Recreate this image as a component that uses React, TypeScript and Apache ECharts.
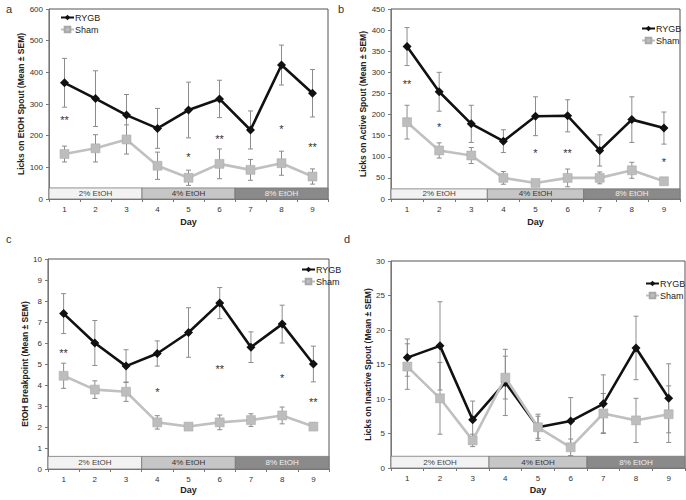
import React, { useEffect, useRef } from 'react';
import * as echarts from 'echarts';

const days = ['1', '2', '3', '4', '5', '6', '7', '8', '9'];
const seriesNames = ['RYGB', 'Sham'];
const bandLabels = ['2% EtOH', '4% EtOH', '8% EtOH'];
const bandStart = [0, 3, 6];
const bandEnd = [2, 5, 8];

// Panel a: Licks on EtOH spout
const aRygb = [367, 317, 265, 223, 281, 316, 218, 423, 334];
const aRygbSem = [77, 88, 65, 63, 88, 59, 60, 63, 75];
const aSham = [142, 160, 188, 105, 67, 111, 92, 113, 71];
const aShamSem = [25, 43, 46, 43, 24, 47, 33, 38, 24];
const aStarDay = [0, 4, 5, 7, 8];
const aStarY = [259, 141, 199, 232, 174];
const aStars = ['**', '*', '**', '*', '**'];

// Panel b: Licks on active spout
const bRygb = [361, 254, 178, 137, 196, 197, 115, 188, 168];
const bRygbSem = [45, 46, 44, 27, 46, 38, 37, 54, 38];
const bSham = [182, 115, 103, 50, 38, 50, 50, 68, 42];
const bShamSem = [40, 18, 19, 15, 5, 21, 14, 19, 4];
const bStarDay = [0, 1, 4, 5, 8];
const bStarY = [280, 178, 115, 115, 95];
const bStars = ['**', '*', '*', '**', '*'];

// Panel c: EtOH breakpoint
const cRygb = [7.4, 6.0, 4.9, 5.5, 6.5, 7.9, 5.8, 6.9, 5.0];
const cRygbSem = [0.95, 1.07, 0.78, 0.6, 1.18, 0.74, 0.73, 0.9, 0.85];
const cSham = [4.44, 3.78, 3.68, 2.22, 2.02, 2.22, 2.33, 2.55, 2.02];
const cShamSem = [0.6, 0.42, 0.46, 0.32, 0.12, 0.35, 0.3, 0.4, 0.18];
const cStarDay = [0, 3, 5, 7, 8];
const cStarY = [5.67, 3.8, 4.92, 4.5, 3.33];
const cStars = ['**', '*', '**', '*', '**'];

// Panel d: Licks on inactive spout
const dRygb = [16.0, 17.7, 7.0, 12.4, 5.9, 6.8, 9.3, 17.4, 10.1];
const dRygbSem = [2.7, 6.4, 2.7, 4.8, 1.9, 3.4, 4.2, 4.6, 5.0];
const dSham = [14.7, 10.1, 4.0, 13.1, 5.9, 3.0, 7.9, 6.9, 7.8];
const dShamSem = [3.3, 5.2, 0.9, 3.1, 1.6, 1.2, 2.9, 3.2, 4.1];
const dStarDay: number[] = [];
const dStarY: number[] = [];
const dStars: string[] = [];

const yMax = [600, 450, 10, 30];
const yInterval = [100, 50, 1, 5];
const bandTop = [35, 24, 0.6, 1.7];
const yNames = [
  'Licks on EtOH Spout (Mean ± SEM)',
  'Licks on Active Spout (Mean ± SEM)',
  'EtOH Breakpoint (Mean ± SEM)',
  'Licks on Inactive Spout (Mean ± SEM)',
];
const panelLetters = ['a', 'b', 'c', 'd'];

const FONT = '"Liberation Sans", Arial, sans-serif';
const bandColors = ['#f2f2f2', '#c6c6c6', '#8a8a8a'];
const bandTextColors = ['#444', '#333', '#eeeeee'];

const layout = [
  { grid: { left: 49, top: 9, width: 279, height: 190 }, yGap: 20, xGap: 18, legend: { left: 60, top: 13 }, letter: [6, 3] },
  { grid: { left: 391, top: 9, width: 289, height: 190 }, yGap: 19, xGap: 18, legend: { left: 641, top: 24 }, letter: [338, 3] },
  { grid: { left: 48, top: 259, width: 281, height: 210 }, yGap: 16, xGap: 16, legend: { left: 301, top: 265 }, letter: [6, 233] },
  { grid: { left: 391, top: 261, width: 294, height: 207 }, yGap: 19, xGap: 17, legend: { left: 645, top: 279 }, letter: [344, 233] },
];

export default function App() {
  const ref = useRef<HTMLDivElement>(null);
  useEffect(() => {
    if (!ref.current) return;
    const chart = echarts.init(ref.current, null, { renderer: 'svg' });
    const data = [
      { rygb: aRygb, rs: aRygbSem, sham: aSham, ss: aShamSem, sd: aStarDay, sy: aStarY, st: aStars },
      { rygb: bRygb, rs: bRygbSem, sham: bSham, ss: bShamSem, sd: bStarDay, sy: bStarY, st: bStars },
      { rygb: cRygb, rs: cRygbSem, sham: cSham, ss: cShamSem, sd: cStarDay, sy: cStarY, st: cStars },
      { rygb: dRygb, rs: dRygbSem, sham: dSham, ss: dShamSem, sd: dStarDay, sy: dStarY, st: dStars },
    ];

    const grids: any[] = [];
    const xAxes: any[] = [];
    const yAxes: any[] = [];
    const legends: any[] = [];
    const series: any[] = [];
    const graphics: any[] = [];

    const errRender = (color: string) => (params: any, api: any) => {
      const x = api.value(0);
      const p1 = api.coord([x, api.value(1)]);
      const p2 = api.coord([x, api.value(2)]);
      const w = 2.5;
      const st = { stroke: color, lineWidth: 1 };
      return {
        type: 'group',
        children: [
          { type: 'line', shape: { x1: p1[0], y1: p1[1], x2: p2[0], y2: p2[1] }, style: st },
          { type: 'line', shape: { x1: p1[0] - w, y1: p1[1], x2: p1[0] + w, y2: p1[1] }, style: st },
          { type: 'line', shape: { x1: p2[0] - w, y1: p2[1], x2: p2[0] + w, y2: p2[1] }, style: st },
        ],
      };
    };

    data.forEach((d, i) => {
      const L = layout[i];
      grids.push({ ...L.grid, show: true, borderColor: '#555', borderWidth: 1, backgroundColor: '#fff' });
      xAxes.push({
        type: 'category',
        gridIndex: i,
        data: days,
        boundaryGap: true,
        name: 'Day',
        nameLocation: 'middle',
        nameGap: L.xGap,
        nameTextStyle: { fontFamily: FONT, fontSize: 9, fontWeight: 'bold', color: '#222' },
        axisLine: { show: true, lineStyle: { color: '#777', width: 1 } },
        axisTick: { show: true, length: 3, lineStyle: { color: '#777' } },
        axisLabel: { fontFamily: FONT, fontSize: 8, color: '#333', margin: 6 },
        splitLine: { show: false },
      });
      yAxes.push({
        type: 'value',
        gridIndex: i,
        min: 0,
        max: yMax[i],
        interval: yInterval[i],
        name: yNames[i],
        nameLocation: 'middle',
        nameGap: L.yGap,
        nameTextStyle: { fontFamily: FONT, fontSize: 8.5, fontWeight: 'bold', color: '#222' },
        axisLine: { show: true, lineStyle: { color: '#777', width: 1 } },
        axisTick: { show: true, length: 3, lineStyle: { color: '#777' } },
        axisLabel: { fontFamily: FONT, fontSize: 8, color: '#333', margin: 6 },
        splitLine: { show: false },
      });
      legends.push({
        data: seriesNames,
        left: L.legend.left,
        top: L.legend.top,
        orient: 'vertical',
        padding: 0,
        itemGap: 3,
        itemWidth: 13,
        itemHeight: 7,
        selectedMode: false,
        textStyle: { fontFamily: FONT, fontSize: 9, color: '#222', padding: [0, 0, 0, -4] },
      });

      // bands
      const top = bandTop[i];
      series.push({
        type: 'custom',
        xAxisIndex: i,
        yAxisIndex: i,
        z: 1,
        silent: true,
        itemStyle: { color: '#777' },
        data: bandStart.map((s, k) => [s, bandEnd[k], top]),
        renderItem: (params: any, api: any) => {
          const k = params.dataIndex;
          const half = api.size([1, 0])[0] / 2;
          const p0 = api.coord([api.value(0), 0]);
          const p1 = api.coord([api.value(1), api.value(2)]);
          const x0 = p0[0] - half;
          const x1 = p1[0] + half;
          return {
            type: 'group',
            children: [
              {
                type: 'rect',
                shape: { x: x0, y: p1[1], width: x1 - x0, height: p0[1] - p1[1] },
                style: { fill: bandColors[k], stroke: '#777', lineWidth: 0.8 },
              },
              {
                type: 'text',
                style: {
                  x: (x0 + x1) / 2,
                  y: (p0[1] + p1[1]) / 2,
                  text: bandLabels[k],
                  fill: bandTextColors[k],
                  font: `8px ${FONT}`,
                  align: 'center',
                  verticalAlign: 'middle',
                },
              },
            ],
          };
        },
      });

      // error bars
      series.push({
        type: 'custom',
        xAxisIndex: i,
        yAxisIndex: i,
        z: 2,
        silent: true,
        itemStyle: { color: '#8c8c8c' },
        data: d.rygb.map((v, k) => [k, v - d.rs[k], v + d.rs[k]]),
        renderItem: errRender('#8c8c8c'),
      });
      series.push({
        type: 'custom',
        xAxisIndex: i,
        yAxisIndex: i,
        z: 2,
        silent: true,
        itemStyle: { color: '#8c8c8c' },
        data: d.sham.map((v, k) => [k, v - d.ss[k], v + d.ss[k]]),
        renderItem: errRender('#8c8c8c'),
      });

      series.push({
        name: 'RYGB',
        type: 'line',
        xAxisIndex: i,
        yAxisIndex: i,
        z: 3,
        data: d.rygb,
        symbol: 'diamond',
        symbolSize: 9,
        itemStyle: { color: '#111' },
        lineStyle: { color: '#111', width: 2.6 },
      });
      series.push({
        name: 'Sham',
        type: 'line',
        xAxisIndex: i,
        yAxisIndex: i,
        z: 4,
        data: d.sham,
        symbol: 'rect',
        symbolSize: 9,
        itemStyle: { color: '#bdbdbd', borderColor: '#a8a8a8', borderWidth: 0.5 },
        lineStyle: { color: '#c0c0c0', width: 2.6 },
      });

      if (d.sd.length) {
        const st = d.st;
        series.push({
          type: 'custom',
          xAxisIndex: i,
          yAxisIndex: i,
          z: 5,
          silent: true,
          itemStyle: { color: '#333' },
          data: d.sd.map((x, k) => [x, d.sy[k]]),
          renderItem: (params: any, api: any) => {
            const p = api.coord([api.value(0), api.value(1)]);
            return {
              type: 'group',
              children: [
                {
                  type: 'text',
                  style: {
                    x: p[0],
                    y: p[1] + 3,
                    text: st[params.dataIndex],
                    fill: '#333',
                    font: `11px ${FONT}`,
                    align: 'center',
                    verticalAlign: 'middle',
                  },
                },
              ],
            };
          },
        });
      }

      graphics.push({
        type: 'text',
        left: L.letter[0],
        top: L.letter[1],
        style: { text: panelLetters[i], fill: '#333', font: `11px ${FONT}` },
      });
    });

    chart.setOption({
      animation: false,
      backgroundColor: '#fff',
      grid: grids,
      xAxis: xAxes,
      yAxis: yAxes,
      legend: legends,
      series,
      graphic: graphics,
    });
    return () => chart.dispose();
  }, []);
  return <div ref={ref} style={{ position: 'absolute', left: 0, top: 0, width: 686, height: 500 }} />;
}
